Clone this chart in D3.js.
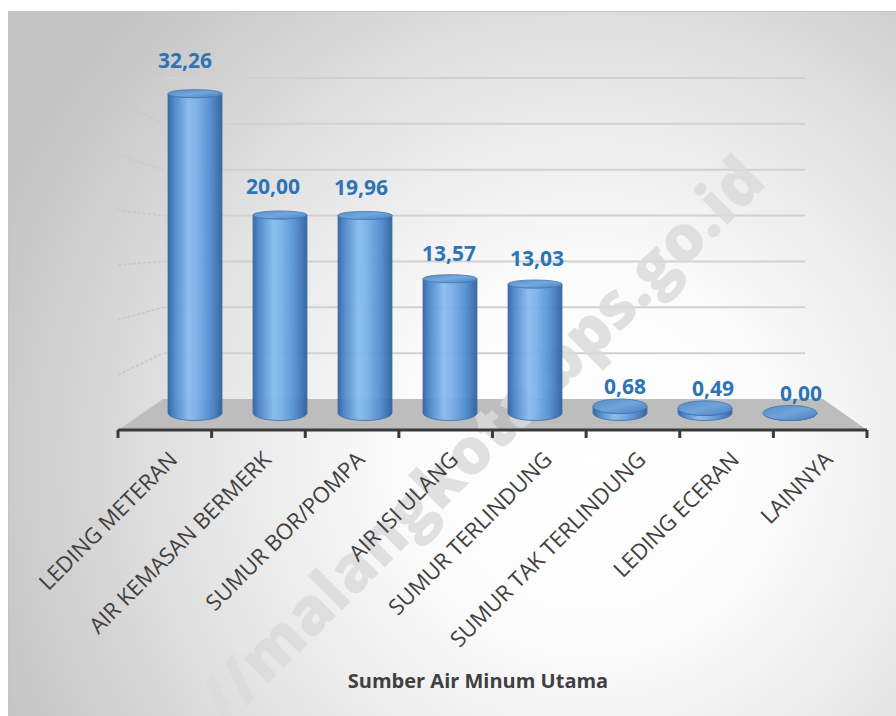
<!DOCTYPE html>
<html>
<head>
<meta charset="utf-8">
<script src="https://cdn.jsdelivr.net/npm/d3@7"></script>
<style>
  html, body { margin: 0; padding: 0; background: #ffffff; }
  svg { display: block; }
  text { font-family: "Open Sans", "Noto Sans", sans-serif; }
</style>
</head>
<body>
<div id="chart"></div>
<script>
// Source of main drinking water (percent of households)
const categories = [
  "LEDING METERAN",
  "AIR KEMASAN BERMERK",
  "SUMUR BOR/POMPA",
  "AIR ISI ULANG",
  "SUMUR TERLINDUNG",
  "SUMUR TAK TERLINDUNG",
  "LEDING ECERAN",
  "LAINNYA"
];
const values = [32.26, 20.00, 19.96, 13.57, 13.03, 0.68, 0.49, 0.00];
const gridTicks = [0, 5, 10, 15, 20, 25, 30, 35];
const axisTitle = "Sumber Air Minum Utama";
const watermark = "https://malangkota.bps.go.id";

const W = 896, H = 716;
const svg = d3.select("#chart").append("svg")
  .attr("width", W).attr("height", H);

const defs = svg.append("defs");

// soft radial backdrop: white in the middle, grey toward the corners
const bgGrad = defs.append("radialGradient").attr("id", "bg")
  .attr("gradientUnits", "userSpaceOnUse")
  .attr("cx", 590).attr("cy", 460).attr("r", 640);
[[0, "#ffffff"], [0.3, "#fbfbfb"], [0.6, "#e6e6e6"], [0.85, "#d0d0d0"], [1, "#c4c4c4"]]
  .forEach(([o, c]) => bgGrad.append("stop").attr("offset", o).attr("stop-color", c));

// cylinder body shading
const bodyGrad = defs.append("linearGradient").attr("id", "barBody")
  .attr("x1", "0%").attr("x2", "100%").attr("y1", "0%").attr("y2", "0%");
[[0, "#2f62a3"], [0.12, "#4a86c9"], [0.38, "#86bdf0"], [0.52, "#7ab2ea"], [0.78, "#4f8dd0"], [1, "#2d5f9e"]]
  .forEach(([o, c]) => bodyGrad.append("stop").attr("offset", o).attr("stop-color", c));

const capGrad = defs.append("linearGradient").attr("id", "barTop")
  .attr("x1", "0%").attr("x2", "100%").attr("y1", "0%").attr("y2", "100%");
[[0, "#4d88c9"], [0.5, "#6aa3de"], [1, "#3f79bd"]]
  .forEach(([o, c]) => capGrad.append("stop").attr("offset", o).attr("stop-color", c));

// chart frame
svg.append("rect").attr("x", 8.5).attr("y", 11.5)
  .attr("width", W).attr("height", H)
  .attr("fill", "url(#bg)").attr("stroke", "#c4c4c4");

// 3D box planes: front edge of the floor and the back wall
const xFront = d3.scaleBand().domain(categories).range([118, 867]);
const xBack  = d3.scaleBand().domain(categories).range([163, 823]);
const xBar   = d3.scaleBand().domain(categories).range([152.5, 832.5]);
const xLabel = d3.scaleBand().domain(categories).range([141, 845]);

const yFront = d3.scaleLinear().domain([0, 35]).range([430, 45]);
const yBack  = d3.scaleLinear().domain([0, 35]).range([399, 78]);
const yBar   = d3.scaleLinear().domain([0, 35]).range([413, 66.5]);
const yLabel = d3.scaleLinear().domain([0, 35]).range([400.6, 39.7]);

const backRight = 805;

// back-wall gridlines
svg.append("g").selectAll("line")
  .data(gridTicks.slice(1)).join("line")
  .attr("x1", xBack.range()[0]).attr("x2", backRight)
  .attr("y1", d => yBack(d)).attr("y2", d => yBack(d))
  .attr("stroke", "#d1d1d1").attr("stroke-width", 2);

// side-wall gridlines
svg.append("g").selectAll("line")
  .data(gridTicks.slice(1)).join("line")
  .attr("x1", xFront.range()[0]).attr("x2", xBack.range()[0])
  .attr("y1", d => yFront(d)).attr("y2", d => yBack(d))
  .attr("stroke", "#cbc6c0").attr("stroke-width", 1.5)
  .attr("stroke-dasharray", "3,2");

// floor
const floorPts = [
  [xFront.range()[0], yFront(0)],
  [xBack.range()[0], yBack(0)],
  [xBack.range()[1], yBack(0)],
  [xFront.range()[1], yFront(0)]
];
svg.append("path")
  .attr("d", d3.line()(floorPts) + "Z")
  .attr("fill", "#bdbdbd");

// watermark
svg.append("text")
  .attr("transform", "translate(768,184) rotate(-45)")
  .attr("text-anchor", "end")
  .attr("font-size", 64).attr("font-weight", 800)
  .attr("fill", "#dadada").attr("fill-opacity", 0.85)
  .text(watermark);

// cylinders
const rx = 27, ryB = 7.5;
const bars = svg.append("g");
categories.forEach((c, i) => {
  const v = values[i];
  const cx = xBar(c) + xBar.bandwidth() / 2;
  const yb = yBar(0), yt = yBar(v);
  const ryT = v >= 13 ? 4 : 7.5 - 3.5 * v / 13;
  const g = bars.append("g").attr("opacity", 0.93);
  g.append("path")
    .attr("d", `M${cx - rx},${yt} L${cx - rx},${yb} A${rx},${ryB} 0 0 0 ${cx + rx},${yb} L${cx + rx},${yt} A${rx},${ryT} 0 0 1 ${cx - rx},${yt} Z`)
    .attr("fill", "url(#barBody)")
    .attr("stroke", "#3568a6").attr("stroke-width", 0.8);
  g.append("ellipse")
    .attr("cx", cx).attr("cy", yt).attr("rx", rx).attr("ry", ryT)
    .attr("fill", "url(#barTop)")
    .attr("stroke", "#3a6eab").attr("stroke-width", 0.8);
});

// value labels
svg.append("g").selectAll("text")
  .data(categories).join("text")
  .attr("x", c => xLabel(c) + xLabel.bandwidth() / 2)
  .attr("y", (c, i) => yLabel(values[i]))
  .attr("text-anchor", "middle")
  .attr("font-size", 21).attr("font-weight", 700)
  .attr("fill", "#2e74b5")
  .text((c, i) => d3.format(".2f")(values[i]).replace(".", ","));

// category axis
const axisY = yFront(0);
svg.append("line")
  .attr("x1", xFront.range()[0]).attr("x2", xFront.range()[1])
  .attr("y1", axisY).attr("y2", axisY)
  .attr("stroke", "#3a3a3a").attr("stroke-width", 3);
const tickXs = categories.map(c => xFront(c)).concat([xFront.range()[1]]);
svg.append("g").selectAll("line")
  .data(tickXs).join("line")
  .attr("x1", d => d).attr("x2", d => d)
  .attr("y1", axisY).attr("y2", axisY + 8)
  .attr("stroke", "#3a3a3a").attr("stroke-width", 3);

svg.append("g").selectAll("text")
  .data(categories).join("text")
  .attr("transform", c => `translate(${xFront(c) + xFront.bandwidth() / 2 + 14},${axisY + 31}) rotate(-45)`)
  .attr("text-anchor", "end")
  .attr("font-size", 22)
  .attr("fill", "#404040")
  .text(c => c);

// axis title
svg.append("text")
  .attr("x", 478).attr("y", 688)
  .attr("text-anchor", "middle")
  .attr("font-size", 20).attr("font-weight", 700)
  .attr("fill", "#404040")
  .text(axisTitle);
</script>
</body>
</html>
